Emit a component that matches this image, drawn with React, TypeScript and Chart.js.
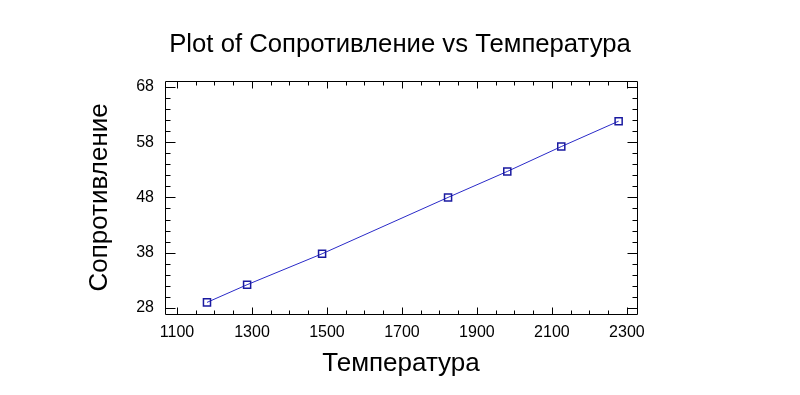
import React, { useEffect, useRef } from "react";
import { Chart, registerables } from "chart.js";

Chart.register(...registerables);

const chartTitle = "Plot of Сопротивление vs Температура";
const xTitle = "Температура";
const yTitle = "Сопротивление";

const temperatura = [1180, 1287, 1487, 1823, 1981, 2125, 2278];
const soprotivlenie = [29.0, 32.2, 37.8, 48.0, 52.7, 57.2, 61.8];

const xTickValues = [1100, 1300, 1500, 1700, 1900, 2100, 2300];
const yTickValues = [28, 38, 48, 58, 68];
const xMinorStep = 50;
const yMinorStep = 2;
const xRange = [1068, 2327];
const yRange = [26.9, 69.1];

const FONT = "'Liberation Sans', Arial, sans-serif";

const frameTicks = {
  id: "frameTicks",
  afterDatasetsDraw(chart: any) {
    const { ctx, chartArea, scales } = chart;
    const { left, right, top, bottom } = chartArea;
    const xs = scales.x;
    const ys = scales.y;
    const r = (v: number) => Math.round(v) + 0.5;
    ctx.save();
    ctx.strokeStyle = "#000000";
    ctx.lineWidth = 1;
    ctx.beginPath();
    ctx.rect(r(left), r(top), Math.round(right) - Math.round(left), Math.round(bottom) - Math.round(top));
    ctx.stroke();

    const xMajor = new Set(xTickValues);
    const yMajor = new Set(yTickValues);
    ctx.beginPath();
    for (let v = xTickValues[0]; v <= xRange[1]; v += xMinorStep) {
      if (v < xRange[0]) continue;
      const px = r(xs.getPixelForValue(v));
      const len = xMajor.has(v) ? 7 : 4;
      ctx.moveTo(px, r(bottom));
      ctx.lineTo(px, r(bottom) - len);
      ctx.moveTo(px, r(top));
      ctx.lineTo(px, r(top) + len);
    }
    for (let v = yTickValues[0]; v <= yRange[1]; v += yMinorStep) {
      if (v < yRange[0]) continue;
      const py = r(ys.getPixelForValue(v));
      const len = yMajor.has(v) ? 10 : 5;
      ctx.moveTo(r(left), py);
      ctx.lineTo(r(left) + len, py);
      ctx.moveTo(r(right), py);
      ctx.lineTo(r(right) - len, py);
    }
    ctx.stroke();
    ctx.restore();
  },
};

export default function App() {
  const canvasRef = useRef<HTMLCanvasElement | null>(null);

  useEffect(() => {
    if (!canvasRef.current) return;
    const chart = new Chart(canvasRef.current, {
      type: "scatter",
      data: {
        datasets: [
          {
            label: yTitle,
            data: temperatura.map((t, i) => ({ x: t, y: soprotivlenie[i] })),
            showLine: true,
            borderColor: "#2a2ac8",
            borderWidth: 1,
            pointStyle: "rect",
            pointRadius: 5,
            pointBorderColor: "#1a1aa0",
            pointBorderWidth: 1.5,
            pointBackgroundColor: "rgba(0,0,0,0)",
            tension: 0,
          },
        ],
      },
      options: {
        animation: false,
        responsive: false,
        devicePixelRatio: 1,
        layout: { padding: 0 },
        plugins: {
          legend: { display: false },
          tooltip: { enabled: false },
          title: {
            display: true,
            text: chartTitle,
            color: "#000000",
            font: { family: FONT, size: 25.7, weight: "normal" },
            padding: { top: 29, bottom: 21 },
          },
        },
        scales: {
          x: {
            type: "linear",
            min: xRange[0],
            max: xRange[1],
            grid: { display: false, drawTicks: false },
            border: { display: false },
            afterBuildTicks: (scale: any) => {
              scale.ticks = xTickValues.map((v) => ({ value: v }));
            },
            afterFit: (scale: any) => {
              scale.height = 81;
            },
            ticks: {
              autoSkip: false,
              maxRotation: 0,
              color: "#000000",
              padding: 9,
              font: { family: FONT, size: 16 },
              callback: (v: any) => String(v),
            },
            title: {
              display: true,
              text: xTitle,
              color: "#000000",
              font: { family: FONT, size: 26 },
              padding: { top: 0, bottom: 16 },
            },
          },
          y: {
            type: "linear",
            min: yRange[0],
            max: yRange[1],
            grid: { display: false, drawTicks: false },
            border: { display: false },
            afterBuildTicks: (scale: any) => {
              scale.ticks = yTickValues.map((v) => ({ value: v }));
            },
            afterFit: (scale: any) => {
              scale.width = 165;
            },
            ticks: {
              autoSkip: false,
              color: "#000000",
              padding: 11,
              font: { family: FONT, size: 16 },
              callback: (v: any) => String(v),
            },
            title: {
              display: true,
              text: yTitle,
              color: "#000000",
              font: { family: FONT, size: 26 },
              padding: { top: 84, bottom: 0 },
            },
          },
          yRight: {
            type: "linear",
            position: "right",
            display: true,
            min: yRange[0],
            max: yRange[1],
            grid: { display: false, drawTicks: false },
            border: { display: false },
            ticks: { display: false },
            afterFit: (scale: any) => {
              scale.width = 163;
            },
          },
        },
      },
      plugins: [frameTicks],
    });
    return () => chart.destroy();
  }, []);

  return (
    <div style={{ position: "fixed", left: 0, top: 0, width: 800, height: 395, background: "#ffffff" }}>
      <canvas ref={canvasRef} width={800} height={395} style={{ width: 800, height: 395 }} />
    </div>
  );
}
